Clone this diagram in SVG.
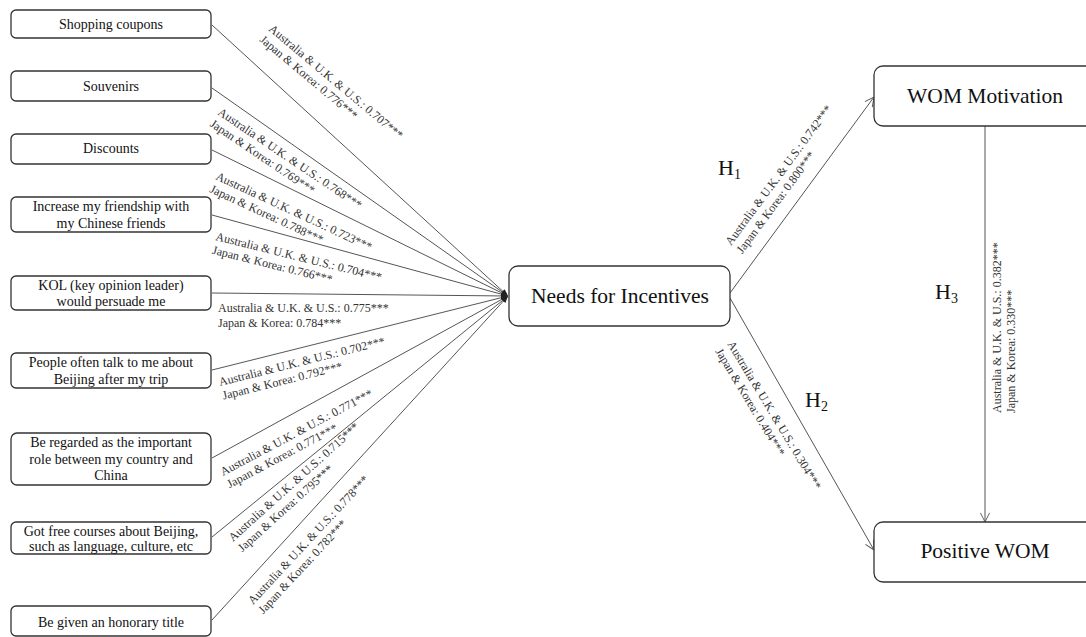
<svg xmlns="http://www.w3.org/2000/svg" width="1086" height="637" viewBox="0 0 1086 637">
<defs>
<style>
.box{fill:#fff;stroke:#333;stroke-width:1.3}
.bt{font-family:"Liberation Serif","Times New Roman",serif;font-size:14px;fill:#111;text-anchor:middle}
.big{font-family:"Liberation Serif","Times New Roman",serif;font-size:21.5px;fill:#111;text-anchor:middle}
.lab{font-family:"Liberation Serif","Times New Roman",serif;font-size:12px;fill:#333}
.h{font-family:"Liberation Serif","Times New Roman",serif;font-size:22px;fill:#111}
.ln{stroke:#555;stroke-width:1;fill:none}
</style>
<marker id="fa" viewBox="0 0 10 10" refX="10" refY="5" markerWidth="7" markerHeight="7" orient="auto" markerUnits="userSpaceOnUse">
<path d="M0,1 L10,5 L0,9 z" fill="#222"/>
</marker>
<marker id="oa" viewBox="0 0 12 12" refX="11" refY="6" markerWidth="11" markerHeight="11" orient="auto" markerUnits="userSpaceOnUse">
<path d="M1,1 L11,6 L1,11" fill="none" stroke="#555" stroke-width="1"/>
</marker>
</defs>
<rect width="1086" height="637" fill="#fff"/>

<g id="connectors">
<line class="ln" x1="212" y1="25" x2="508" y2="296" marker-end="url(#fa)"/>
<line class="ln" x1="212" y1="88" x2="508" y2="296" marker-end="url(#fa)"/>
<line class="ln" x1="212" y1="150" x2="508" y2="296" marker-end="url(#fa)"/>
<line class="ln" x1="212" y1="215" x2="508" y2="296" marker-end="url(#fa)"/>
<line class="ln" x1="212" y1="293" x2="508" y2="296" marker-end="url(#fa)"/>
<line class="ln" x1="212" y1="370" x2="508" y2="296" marker-end="url(#fa)"/>
<line class="ln" x1="212" y1="458" x2="508" y2="296" marker-end="url(#fa)"/>
<line class="ln" x1="212" y1="537" x2="508" y2="296" marker-end="url(#fa)"/>
<line class="ln" x1="212" y1="620" x2="508" y2="296" marker-end="url(#fa)"/>
<line class="ln" x1="730" y1="293" x2="874" y2="97" marker-end="url(#oa)"/>
<line class="ln" x1="730" y1="298" x2="874" y2="550" marker-end="url(#oa)"/>
<line class="ln" x1="985" y1="126" x2="985" y2="522" marker-end="url(#oa)"/>
</g>

<g id="labels">
<text class="lab" transform="translate(268,30) rotate(40)"><tspan x="0" y="0">Australia &amp; U.K. &amp; U.S.: 0.707***</tspan><tspan x="0" y="14">Japan &amp; Korea: 0.776***</tspan></text>
<text class="lab" transform="translate(217,114) rotate(34)"><tspan x="0" y="0">Australia &amp; U.K. &amp; U.S.: 0.768***</tspan><tspan x="0" y="14">Japan &amp; Korea: 0.769***</tspan></text>
<text class="lab" transform="translate(215,179) rotate(25)"><tspan x="0" y="0">Australia &amp; U.K. &amp; U.S.: 0.723***</tspan><tspan x="0" y="14">Japan &amp; Korea: 0.788***</tspan></text>
<text class="lab" transform="translate(215,240) rotate(14)"><tspan x="0" y="0">Australia &amp; U.K. &amp; U.S.: 0.704***</tspan><tspan x="0" y="14">Japan &amp; Korea: 0.766***</tspan></text>
<text class="lab" transform="translate(218,312)"><tspan x="0" y="0">Australia &amp; U.K. &amp; U.S.: 0.775***</tspan><tspan x="0" y="14.5">Japan &amp; Korea: 0.784***</tspan></text>
<text class="lab" transform="translate(220,386) rotate(-14)"><tspan x="0" y="0">Australia &amp; U.K. &amp; U.S.: 0.702***</tspan><tspan x="0" y="14">Japan &amp; Korea: 0.792***</tspan></text>
<text class="lab" transform="translate(223,476) rotate(-28)"><tspan x="0" y="0">Australia &amp; U.K. &amp; U.S.: 0.771***</tspan><tspan x="0" y="14">Japan &amp; Korea: 0.771***</tspan></text>
<text class="lab" transform="translate(233,542) rotate(-42)"><tspan x="0" y="0">Australia &amp; U.K. &amp; U.S.: 0.715***</tspan><tspan x="0" y="14">Japan &amp; Korea: 0.795***</tspan></text>
<text class="lab" transform="translate(253,605) rotate(-47)"><tspan x="0" y="0">Australia &amp; U.K. &amp; U.S.: 0.778***</tspan><tspan x="0" y="14">Japan &amp; Korea: 0.782***</tspan></text>
<text class="lab" transform="translate(731,246) rotate(-53.5)"><tspan x="0" y="0">Australia &amp; U.K. &amp; U.S.: 0.742***</tspan><tspan x="0" y="14">Japan &amp; Korea: 0.800***</tspan></text>
<text class="lab" transform="translate(727,344) rotate(59)"><tspan x="0" y="0">Australia &amp; U.K. &amp; U.S.: 0.304***</tspan><tspan x="0" y="14">Japan &amp; Korea: 0.404***</tspan></text>
<text class="lab" transform="translate(1001,413) rotate(-90)"><tspan x="0" y="0">Australia &amp; U.K. &amp; U.S.: 0.382***</tspan><tspan x="0" y="14">Japan &amp; Korea: 0.330***</tspan></text>
<text class="h" x="718" y="175">H<tspan font-size="14" dy="4">1</tspan></text>
<text class="h" x="805" y="407">H<tspan font-size="14" dy="4">2</tspan></text>
<text class="h" x="935" y="299">H<tspan font-size="14" dy="4">3</tspan></text>
</g>

<g id="n1"><rect class="box" x="11" y="10" width="200" height="28" rx="5"/><text class="bt" x="111" y="29">Shopping coupons</text></g>
<g id="n2"><rect class="box" x="11" y="71" width="200" height="30" rx="5"/><text class="bt" x="111" y="91">Souvenirs</text></g>
<g id="n3"><rect class="box" x="11" y="134" width="200" height="30" rx="5"/><text class="bt" x="111" y="153">Discounts</text></g>
<g id="n4"><rect class="box" x="11" y="197" width="200" height="35" rx="5"/><text class="bt" x="111" y="211">Increase my friendship with</text><text class="bt" x="111" y="228">my Chinese friends</text></g>
<g id="n5"><rect class="box" x="11" y="276" width="200" height="34" rx="5"/><text class="bt" x="111" y="290">KOL (key opinion leader)</text><text class="bt" x="111" y="306">would persuade me</text></g>
<g id="n6"><rect class="box" x="11" y="353" width="200" height="35" rx="5"/><text class="bt" x="111" y="367">People often talk to me about</text><text class="bt" x="111" y="384">Beijing after my trip</text></g>
<g id="n7"><rect class="box" x="11" y="433" width="200" height="52" rx="6"/><text class="bt" x="111" y="447">Be regarded as the important</text><text class="bt" x="111" y="464">role between my country and</text><text class="bt" x="111" y="480">China</text></g>
<g id="n8"><rect class="box" x="11" y="522" width="200" height="32" rx="5"/><text class="bt" x="111" y="536">Got free courses about Beijing,</text><text class="bt" x="111" y="551">such as language, culture, etc</text></g>
<g id="n9"><rect class="box" x="11" y="606" width="200" height="30" rx="5"/><text class="bt" x="111" y="627">Be given an honorary title</text></g>

<g id="needs"><rect class="box" x="509" y="266" width="221" height="60" rx="9"/><text class="big" x="620" y="303">Needs for Incentives</text></g>
<g id="wommot"><rect class="box" x="874" y="66" width="240" height="60" rx="9"/><text class="big" x="985" y="103">WOM Motivation</text></g>
<g id="poswom"><rect class="box" x="874" y="522" width="240" height="60" rx="9"/><text class="big" x="985" y="558">Positive WOM</text></g>
</svg>
